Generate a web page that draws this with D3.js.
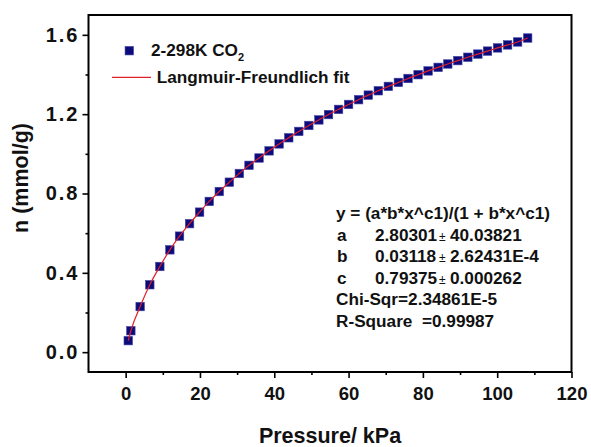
<!DOCTYPE html>
<html>
<head>
<meta charset="utf-8">
<script src="https://cdn.jsdelivr.net/npm/d3@7"></script>
<style>
  body { margin: 0; background: #ffffff; }
  svg { display: block; font-family: "Liberation Sans", Arial, sans-serif; font-weight: bold; }
</style>
</head>
<body>
<svg id="chart" width="591" height="447"></svg>
<script>
// CO2 uptake isotherm at 298 K
const pressure = [0.7, 1.4, 3.9, 6.5, 9.2, 11.9, 14.5, 17.2, 19.9, 22.5, 25.2, 27.9, 30.6, 33.2,
  35.9, 38.6, 41.3, 43.9, 46.6, 49.3, 52.0, 54.6, 57.3, 60.0, 62.7, 65.3, 68.0, 70.7, 73.4, 76.0,
  78.7, 81.4, 84.1, 86.7, 89.4, 92.1, 94.8, 97.4, 100.1, 102.8, 105.5, 108.2];
const uptake = [0.058, 0.108, 0.230, 0.340, 0.432, 0.516, 0.585, 0.648, 0.706, 0.760, 0.810, 0.857, 0.901, 0.942,
  0.979, 1.015, 1.050, 1.081, 1.113, 1.143, 1.171, 1.198, 1.224, 1.249, 1.273, 1.296, 1.318, 1.340, 1.360, 1.380,
  1.399, 1.418, 1.436, 1.453, 1.470, 1.487, 1.503, 1.518, 1.534, 1.549, 1.564, 1.584];

const xMajorTicks = [0, 20, 40, 60, 80, 100, 120];
const xMinorTicks = [10, 30, 50, 70, 90, 110];
const yMajorTicks = [0.0, 0.4, 0.8, 1.2, 1.6];
const yMinorTicks = [0.2, 0.6, 1.0, 1.4];

const xTitle = "Pressure/ kPa";
const yTitle = "n (mmol/g)";
const seriesName = "2-298K CO";
const seriesSub = "2";
const fitName = "Langmuir-Freundlich fit";
const fitEquation = "y = (a*b*x^c1)/(1 + b*x^c1)";
const fitParamNames = ["a", "b", "c"];
const fitParamValues = ["2.80301", "0.03118", "0.79375"];
const fitParamErrors = ["40.03821", "2.62431E-4", "0.000262"];
const fitStats = ["Chi-Sqr=2.34861E-5", "R-Square  =0.99987"];

const svg = d3.select("#chart");
const plot = { left: 88.5, right: 571.5, top: 15, bottom: 372 };

const x = d3.scaleLinear().domain([-10, 120]).range([plot.left, plot.right]);
const y = d3.scaleLinear().domain([-0.1, 1.7]).range([plot.bottom, plot.top]);

const navy = "#0b0b7a";
const red = "#e0202a";
const fontStack = '"Liberation Sans", Arial, sans-serif';

// axes: major ticks with labels, minor ticks without
svg.append("g").attr("class", "x-axis").attr("transform", `translate(0,${plot.bottom})`)
  .call(d3.axisBottom(x).tickValues(xMajorTicks).tickSize(6).tickPadding(9).tickFormat(d3.format("d")));
svg.append("g").attr("transform", `translate(0,${plot.bottom})`)
  .call(d3.axisBottom(x).tickValues(xMinorTicks).tickSize(3).tickFormat(""));
svg.append("g").attr("class", "y-axis").attr("transform", `translate(${plot.left},0)`)
  .call(d3.axisLeft(y).tickValues(yMajorTicks).tickSize(6).tickPadding(3).tickFormat(d3.format(".1f")));
svg.append("g").attr("transform", `translate(${plot.left},0)`)
  .call(d3.axisLeft(y).tickValues(yMinorTicks).tickSize(3).tickFormat(""));

svg.selectAll(".domain").remove();
svg.selectAll(".tick line").attr("stroke", "#000").attr("stroke-width", 1.6);
svg.selectAll(".tick text").attr("fill", "#111").style("font-weight", "bold").style("font-family", fontStack);
svg.selectAll(".x-axis .tick text").style("font-size", "18.5px");
svg.selectAll(".y-axis .tick text").style("font-size", "20px").style("letter-spacing", "2px");

// frame
svg.append("rect")
  .attr("x", plot.left).attr("y", plot.top)
  .attr("width", plot.right - plot.left).attr("height", plot.bottom - plot.top)
  .attr("fill", "none").attr("stroke", "#000").attr("stroke-width", 2);

// data markers
const pts = pressure.map((p, i) => [p, uptake[i]]);
const ms = 8.5;
svg.append("g").selectAll("rect").data(pts).join("rect")
  .attr("x", d => x(d[0]) - ms / 2).attr("y", d => y(d[1]) - ms / 2)
  .attr("width", ms).attr("height", ms)
  .attr("fill", navy).attr("stroke", "#4646a8").attr("stroke-width", 0.6);

// fit line through the isotherm
svg.append("path").datum(pts)
  .attr("d", d3.line().x(d => x(d[0])).y(d => y(d[1])).curve(d3.curveMonotoneX))
  .attr("fill", "none").attr("stroke", red).attr("stroke-width", 1.2);

// axis titles
svg.append("text").attr("x", (plot.left + plot.right) / 2).attr("y", 443)
  .attr("text-anchor", "middle").style("font-size", "21.5px").attr("fill", "#111").text(xTitle);
svg.append("text").attr("transform", "translate(28,178) rotate(-90)")
  .attr("text-anchor", "middle").style("font-size", "21.5px").attr("fill", "#111").text(yTitle);

// legend
const legend = svg.append("g");
legend.append("rect").attr("x", 129.3 - 4.25).attr("y", 50.7 - 4.25).attr("width", 8.5).attr("height", 8.5)
  .attr("fill", navy).attr("stroke", "#4646a8").attr("stroke-width", 0.6);
const lt = legend.append("text").attr("x", 151).attr("y", 56).style("font-size", "17.2px").attr("fill", "#111");
lt.append("tspan").text(seriesName);
lt.append("tspan").attr("dy", 5).style("font-size", "11px").text(seriesSub);
legend.append("line").attr("x1", 112).attr("x2", 151).attr("y1", 77.3).attr("y2", 77.3)
  .attr("stroke", red).attr("stroke-width", 1.2);
legend.append("text").attr("x", 156.7).attr("y", 83.3).style("font-size", "17.2px").attr("fill", "#111").text(fitName);

// fit report
const rep = svg.append("g").style("font-size", "17.2px").attr("fill", "#111");
const lx = 336, ly = 219, lh = 21.5;
rep.append("text").attr("x", lx).attr("y", ly).text(fitEquation);
fitParamNames.forEach((n, i) => {
  const yy = ly + lh * (i + 1);
  rep.append("text").attr("x", lx + 1).attr("y", yy).text(n);
  rep.append("text").attr("x", 375).attr("y", yy).text(fitParamValues[i]);
  rep.append("text").attr("x", 439).attr("y", yy).style("font-size", "12px").style("font-weight", "normal").text("\u00b1");
  rep.append("text").attr("x", 450).attr("y", yy).text(fitParamErrors[i]);
});
fitStats.forEach((s, i) => {
  rep.append("text").attr("x", lx).attr("y", ly + lh * (4 + i)).style("white-space", "pre").text(s);
});
</script>
</body>
</html>
